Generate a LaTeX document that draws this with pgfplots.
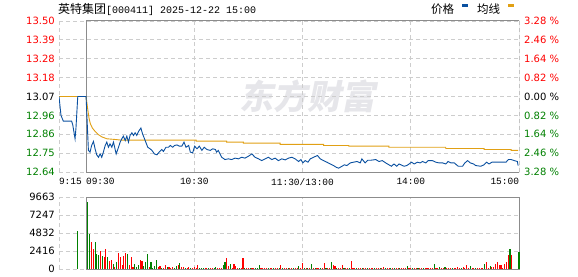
\documentclass[border=0pt]{standalone}
\usepackage{pgfplots}
\pgfplotsset{compat=1.18}
\usepackage{fontspec}
\setmainfont{DejaVu Sans}
\newfontfamily\cjk{Noto Sans CJK SC}
\newfontfamily\mono{Liberation Mono}
\definecolor{pblue}{RGB}{10,80,160}
\definecolor{avgc}{RGB}{225,160,20}
\definecolor{upred}{RGB}{255,0,0}
\definecolor{dngreen}{RGB}{0,128,0}
\definecolor{gridc}{RGB}{205,205,205}
\definecolor{framec}{RGB}{140,140,140}
\definecolor{wm}{RGB}{230,230,234}

\pgfplotstableread{
m p
-15 13.07
-13.9 12.963
-12.6 12.93
-8 12.93
-7.4 12.91
-6.1 12.83
-5.6 12.89
-4.6 13.07
0 13.07
1.3 12.764
2.2 12.754
3.1 12.792
4.1 12.815
5 12.773
5.9 12.739
6.9 12.725
7.8 12.744
8.7 12.725
9.6 12.754
10.6 12.792
11.5 12.811
12.4 12.782
13.3 12.801
14.3 12.782
15.2 12.811
16.7 12.744
18 12.782
18.9 12.811
19.8 12.830
20.7 12.845
21.7 12.820
22.6 12.845
23.5 12.811
24.4 12.849
25.4 12.864
26.3 12.849
27.2 12.864
28.1 12.849
29.1 12.872
30.4 12.891
31.3 12.858
32.4 12.830
33.1 12.811
34.2 12.782
35.5 12.773
36.5 12.764
37.9 12.744
39.3 12.739
40.5 12.754
42 12.769
42.9 12.758
44.3 12.782
45.7 12.782
46.7 12.792
48 12.782
49.1 12.792
50.4 12.795
51.7 12.788
53.1 12.788
54.3 12.811
55.4 12.782
56.9 12.792
57.8 12.754
59.1 12.750
60.2 12.788
61.5 12.773
62.8 12.788
64.2 12.764
65.5 12.782
67 12.769
68.9 12.764
70.2 12.773
71.7 12.769
72.4 12.754
73.3 12.764
75.2 12.725
77.0 12.712
78.9 12.716
80.7 12.712
82.6 12.720
84.5 12.716
86.3 12.725
88.1 12.720
90.0 12.731
91.9 12.744
93.7 12.725
95.6 12.716
97.4 12.706
99.3 12.716
101.1 12.725
103.0 12.712
104.8 12.720
106.6 12.706
108.5 12.716
110.4 12.710
112.2 12.720
114.1 12.725
115.9 12.716
117.8 12.701
119.1 12.712
120.2 12.693
121.5 12.706
123.0 12.697
124.3 12.716
126.1 12.725
128.3 12.735
129.8 12.716
131.7 12.706
133.5 12.697
135.4 12.687
137.2 12.678
138.7 12.668
140.0 12.663
141.9 12.674
143.2 12.682
144.6 12.678
146.5 12.693
148.3 12.697
150.2 12.701
152.0 12.693
152.9 12.716
154.7 12.693
156.1 12.708
157.8 12.708
160.6 12.712
162.4 12.701
164.2 12.706
166.1 12.693
167.9 12.682
169.3 12.674
170.7 12.687
172.2 12.674
173.5 12.687
175.4 12.678
176.3 12.674
177.8 12.678
179.1 12.687
180.4 12.697
181.9 12.687
183.7 12.697
185.2 12.693
186.5 12.701
188.3 12.693
189.6 12.706
192.0 12.706
193.9 12.697
195.7 12.693
197.6 12.693
199.4 12.687
200.7 12.701
202.2 12.693
204.1 12.693
206.3 12.674
208.7 12.674
210.0 12.693
211.5 12.706
213.0 12.693
214.8 12.687
216.0 12.678
218.8 12.674
220.6 12.682
222.0 12.697
223.4 12.687
225.0 12.697
227.2 12.697
230.0 12.697
232.8 12.697
234.1 12.712
235.6 12.712
237.4 12.706
239.1 12.701
239.5 12.678
}\pricetab

\pgfplotstableread{
m a
-15 13.07
0 13.07
0.9 13.00
1.7 12.944
2.4 12.915
3.5 12.891
5 12.872
6.9 12.853
8.7 12.841
11.5 12.830
16.1 12.826
19.8 12.822
61 12.822
61 12.817
77.9 12.817
77.9 12.811
87.2 12.811
87.2 12.805
107.6 12.805
107.6 12.798
131.7 12.798
131.7 12.792
145.6 12.792
145.6 12.788
167.9 12.788
167.9 12.782
199.4 12.782
199.4 12.775
220.7 12.775
220.7 12.769
235.6 12.769
235.6 12.764
239.5 12.764
}\avgtab

\pgfplotsset{common/.style={
  scale only axis, width=460pt, xmin=-15, xmax=240,
  axis line style={draw=none}, major tick length=0pt,
  grid=major, grid style={gridc, dash pattern=on 4pt off 3pt, line width=0.8pt},
  xtick={-15,0,60,120,180,240},
  tick label style={font=\fontsize{10}{12}\selectfont},
  yticklabel style={anchor=east, inner sep=0pt, xshift=-4pt},
}}

\begin{document}
\begin{tikzpicture}[x=1pt,y=1pt]
\useasboundingbox (0,0) rectangle (578,276);
\node[font=\cjk\bfseries\fontsize{34}{34}\selectfont, text=wm, xslant=0.2] at (310,180) {东方财富};

\node[anchor=west, inner sep=0pt] at (58,267) {\cjk\fontsize{12}{12}\selectfont 英特集团\mono\fontsize{10}{10}\selectfont[000411] 2025-12-22 15:00};
\node[anchor=west, inner sep=0pt] at (431,267) {\cjk\fontsize{11.5}{12}\selectfont 价格};
\fill[pblue] (462,268.5) rectangle (468,271.5);
\node[anchor=west, inner sep=0pt] at (477,267) {\cjk\fontsize{11.5}{12}\selectfont 均线};
\fill[avgc] (508,268.5) rectangle (514,271.5);

\begin{axis}[common, at={(59pt,104pt)}, anchor=south west, height=151pt,
  ymin=12.6413, ymax=13.4987,
  ytick={12.6413,12.7485,12.8557,12.9628,13.07,13.1772,13.2843,13.3915,13.4987},
  yticklabels={\textcolor{dngreen}{12.64},\textcolor{dngreen}{12.75},\textcolor{dngreen}{12.86},\textcolor{dngreen}{12.96},13.07,\textcolor{upred}{13.18},\textcolor{upred}{13.28},\textcolor{upred}{13.39},\textcolor{upred}{13.50}},
  xticklabels={\rlap{9:15},\rlap{09:30},10:30,11:30/13:00,14:00,\llap{15:00}},
  xticklabel style={font=\mono\fontsize{9.5}{10}\selectfont, anchor=north, inner sep=0pt, yshift=-6pt},
]
\draw[framec, line width=1pt] (axis cs:0,12.6413) rectangle (axis cs:240,13.4987);
\addplot[avgc, line width=0.9pt] table[x=m,y=a] {\avgtab};
\addplot[pblue, line width=0.9pt] table[x=m,y=p] {\pricetab};
\end{axis}

\begin{axis}[scale only axis, at={(59pt,104pt)}, anchor=south west, width=460pt, height=151pt,
  xmin=-15, xmax=240, ymin=-3.28, ymax=3.28,
  axis line style={draw=none}, major tick length=0pt, xtick=\empty,
  ytick={-3.28,-2.46,-1.64,-0.82,0,0.82,1.64,2.46,3.28},
  yticklabels={\textcolor{dngreen}{3.28 \%},\textcolor{dngreen}{2.46 \%},\textcolor{dngreen}{1.64 \%},\textcolor{dngreen}{0.82 \%},0.00 \%,\textcolor{upred}{0.82 \%},\textcolor{upred}{1.64 \%},\textcolor{upred}{2.46 \%},\textcolor{upred}{3.28 \%}},
  yticklabel pos=right,
  yticklabel style={anchor=west, inner sep=0pt, xshift=5pt, font=\fontsize{10}{12}\selectfont},
]
\addplot[draw=none] coordinates {(0,0)};
\end{axis}

\begin{axis}[common, at={(59pt,7pt)}, anchor=south west, height=72pt,
  ymin=0, ymax=9663, ytick={0,2416,4832,7247,9663},
  yticklabels={0,2416,4832,7247,9663},
  xticklabels={}, clip=false,
]
\draw[framec, line width=1pt] (axis cs:0,0) rectangle (axis cs:240,9663);
\addplot[ycomb, dngreen, line width=1.1pt, mark=none] coordinates {
(-4.5,5100) (1,8952) (2,4719) (5,3660) (6,2073) (7,1940) (9,1808) (12,1676) (15,617) (17,882) (23,2073) (27,617) (28,265) (29,573) (32,353) (33,882) (34,2073) (36,882) (37,132) (38,353) (39,1147) (42,132) (45,220) (49,132) (50,397) (52,750) (55,132) (58,88) (63,88) (64,88) (65,88) (68,88) (71,132) (72,220) (76,485) (77,882) (80,617) (85,88) (88,88) (91,88) (94,88) (95,88) (96,485) (101,88) (104,88) (107,88) (109,88) (112,88) (115,88) (118,353) (121,88) (123,88) (125,617) (127,88) (130,88) (133,88) (136,882) (139,88) (143,88) (146,88) (150,88) (153,132) (156,88) (160,88) (163,88) (166,88) (169,88) (171,88) (174,88) (178,353) (181,88) (184,88) (187,88) (193,617) (196,220) (199,220) (203,88) (208,88) (213,353) (216,88) (221,617) (224,353) (235,2734) (240,2337)
};
\addplot[ycomb, upred, line width=1.1pt, mark=none] coordinates {
(3,3660) (4,2690) (8,2425) (10,1676) (11,2734) (13,1014) (14,1147) (16,309) (18,2117) (19,1676) (20,529) (21,1808) (22,2205) (24,485) (25,1676) (26,220) (30,1147) (31,1058) (35,220) (40,220) (41,397) (43,132) (44,485) (46,309) (47,132) (48,265) (51,529) (53,309) (54,309) (56,88) (57,309) (59,88) (60,220) (61,88) (62,485) (66,88) (67,88) (69,88) (70,88) (73,88) (74,88) (75,132) (78,1411) (79,353) (81,88) (82,617) (83,353) (84,88) (86,88) (87,1411) (89,88) (90,88) (92,88) (93,88) (97,88) (98,88) (99,88) (100,88) (102,88) (103,88) (105,88) (106,88) (108,485) (110,88) (111,88) (113,88) (114,88) (116,88) (117,88) (119,88) (120,794) (122,88) (124,88) (126,88) (128,88) (129,88) (131,88) (132,750) (134,88) (135,88) (137,485) (138,353) (140,88) (141,88) (142,485) (144,88) (145,88) (147,1014) (148,88) (149,88) (151,88) (152,88) (154,88) (155,88) (157,88) (158,88) (159,88) (161,88) (162,88) (164,88) (165,220) (167,88) (168,88) (170,88) (172,88) (173,88) (175,88) (176,88) (177,88) (179,88) (180,132) (182,88) (183,88) (185,88) (186,88) (188,88) (189,88) (190,88) (191,88) (192,88) (194,88) (195,88) (197,88) (198,88) (200,88) (201,88) (202,88) (204,88) (205,88) (206,220) (207,88) (209,220) (210,88) (211,485) (212,88) (214,88) (215,88) (217,88) (218,88) (219,88) (220,132) (222,882) (223,88) (225,220) (226,220) (227,617) (228,882) (229,485) (230,485) (231,88) (232,617) (233,882) (234,1940) (236,1940)
};
\end{axis}
\end{tikzpicture}
\end{document}
